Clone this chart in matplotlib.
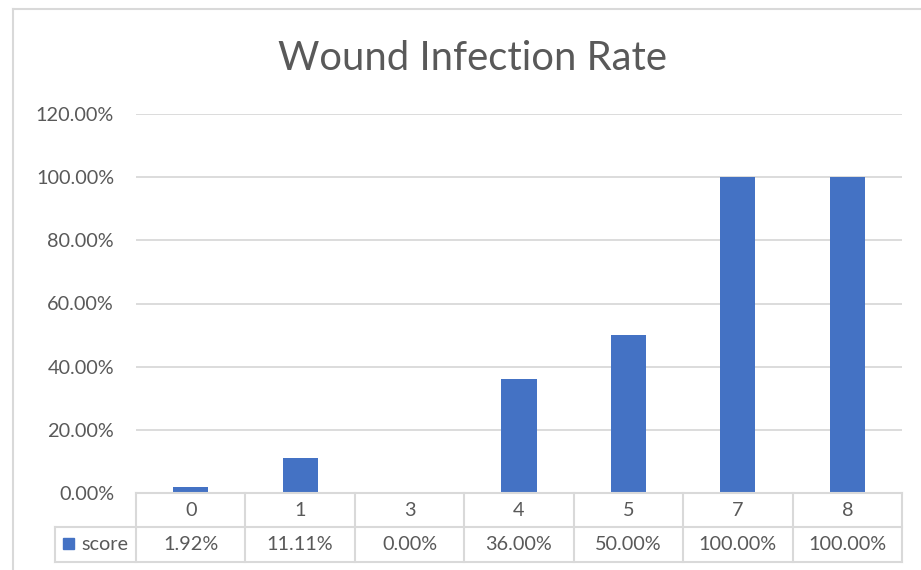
import matplotlib
matplotlib.use("Agg")
import matplotlib.pyplot as plt
from matplotlib.lines import Line2D
from matplotlib.patches import Rectangle

categories = ["0", "1", "3", "4", "5", "7", "8"]
values = [0.0192, 0.1111, 0.0, 0.36, 0.50, 1.00, 1.00]
series_name = "score"
yticks = [0.0, 0.2, 0.4, 0.6, 0.8, 1.0, 1.2]
title = "Wound Infection Rate"

BAR = "#4472C4"
TXT = "#595959"
GRID = "#D9D9D9"
FONT = "Lato"

W, H = 921, 570
fig = plt.figure(figsize=(W / 100, H / 100), dpi=100)

def fx(px):
    return px / W

def fy(py):
    return 1 - py / H

# plot area
x0, x1 = 136, 902
ytop, ybot = 114, 493
ax = fig.add_axes([fx(x0), fy(ybot), fx(x1) - fx(x0), fy(ytop) - fy(ybot)])
n = len(categories)
ax.set_xlim(-0.5, n - 0.5)
ax.set_ylim(0, 1.2)
ax.bar(range(n), values, width=0.32, color=BAR, zorder=3)
ax.set_yticks(yticks)
ax.set_yticklabels([f"{v*100:.2f}%" for v in yticks], fontsize=14.3, color=TXT, family=FONT)
ax.tick_params(axis="y", length=0, pad=15.8)
ax.set_xticks([])
for s in ax.spines.values():
    s.set_visible(False)
ax.grid(axis="y", color=GRID, linewidth=1.3, zorder=0)
ax.set_axisbelow(True)

# chart border (left and top)
fig.add_artist(Line2D([fx(13), fx(13)], [fy(9), 0], color=GRID, lw=1.5))
fig.add_artist(Line2D([fx(13), 1], [fy(9), fy(9)], color=GRID, lw=1.5))

# title
fig.text(fx(472), fy(58), title, ha="center", va="center", fontsize=28.8, color=TXT, family=FONT)

# data table
r0, r1, r2 = 493, 527, 562
colw = (x1 - x0) / n
lw = 1.5
fig.add_artist(Line2D([fx(x0), fx(x1)], [fy(r0), fy(r0)], color=GRID, lw=lw))
fig.add_artist(Line2D([fx(55), fx(x1)], [fy(r1), fy(r1)], color=GRID, lw=lw))
fig.add_artist(Line2D([fx(55), fx(x1)], [fy(r2), fy(r2)], color=GRID, lw=lw))
fig.add_artist(Line2D([fx(55), fx(55)], [fy(r1), fy(r2)], color=GRID, lw=lw))
for i in range(n + 1):
    xx = x0 + i * colw
    fig.add_artist(Line2D([fx(xx), fx(xx)], [fy(r0), fy(r2)], color=GRID, lw=lw))
for i, (c, v) in enumerate(zip(categories, values)):
    cx = x0 + (i + 0.5) * colw
    fig.text(fx(cx), fy((r0 + r1) / 2), c, ha="center", va="center", fontsize=14.3, color=TXT, family=FONT)
    fig.text(fx(cx), fy((r1 + r2) / 2), f"{v*100:.2f}%", ha="center", va="center", fontsize=14.3, color=TXT, family=FONT)
# legend key
fig.add_artist(Rectangle((fx(63), fy(549)), fx(11), fy(538) - fy(549), color=BAR))
fig.text(fx(81), fy((r1 + r2) / 2), series_name, ha="left", va="center", fontsize=14.3, color=TXT, family=FONT)

fig.savefig("out.png", dpi=100)
